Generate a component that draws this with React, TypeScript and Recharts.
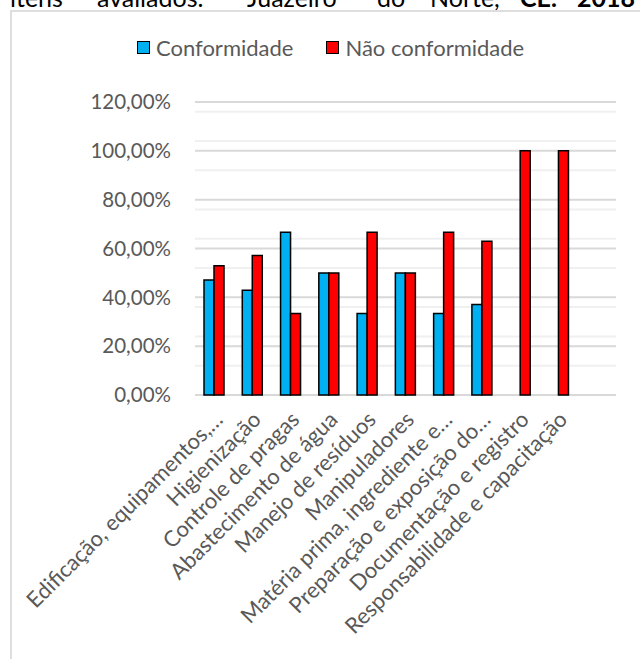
import React from "react";
import { BarChart, Bar, XAxis, YAxis, CartesianGrid, Legend } from "recharts";

const categories = [
  "Edificação, equipamentos,…",
  "Higienização",
  "Controle de pragas",
  "Abastecimento de água",
  "Manejo de resíduos",
  "Manipuladores",
  "Matéria prima, ingrediente e…",
  "Preparação e exposição do…",
  "Documentação e registro",
  "Responsabilidade e capacitação",
  "",
];
const conformidade = [0.4706, 0.4286, 0.6667, 0.5, 0.3333, 0.5, 0.3333, 0.3704, 0, 0, null];
const naoConformidade = [0.5294, 0.5714, 0.3333, 0.5, 0.6667, 0.5, 0.6667, 0.6296, 1, 1, null];
const yTicks = [0, 0.2, 0.4, 0.6, 0.8, 1.0, 1.2];
const minorTicks = [
  0.04, 0.08, 0.12, 0.16, 0.24, 0.28, 0.32, 0.36, 0.44, 0.48, 0.52, 0.56,
  0.64, 0.68, 0.72, 0.76, 0.84, 0.88, 0.92, 0.96, 1.04, 1.08, 1.12, 1.16,
];
const seriesNames = ["Conformidade", "Não conformidade"];
const seriesColors = ["#00B0F0", "#FF0000"];
const headerWords = [
  { t: "itens", x: 10, b: false },
  { t: "avaliados.", x: 97, b: false },
  { t: "Juazeiro", x: 247, b: false },
  { t: "do", x: 377, b: false },
  { t: "Norte,", x: 430, b: false },
  { t: "CE.", x: 520, b: true },
  { t: "2018", x: 577, b: true },
];

const data = categories.map((c, i) => ({
  name: c,
  conf: conformidade[i],
  nconf: naoConformidade[i],
}));

const FONT = "Lato, 'Open Sans', sans-serif";
const LABEL = "#595959";

const fmt = (v: number) => (v * 100).toFixed(2).replace(".", ",") + "%";

const XTick = (props: any) => {
  const { x, y, payload } = props;
  return (
    <g transform={`translate(${x + 10},${y + 26}) rotate(-45)`}>
      <text x={0} y={0} textAnchor="end" fill={LABEL} fontSize={22} fontFamily={FONT}>
        {payload.value}
      </text>
    </g>
  );
};

const LegendContent = () => (
  <div
    style={{
      display: "flex",
      justifyContent: "flex-start",
      alignItems: "center",
      fontFamily: FONT,
      fontSize: 22,
      color: LABEL,
      paddingLeft: 137,
      whiteSpace: "nowrap",
    }}
  >
    {seriesNames.map((n, i) => (
      <div key={n} style={{ display: "flex", alignItems: "center", marginRight: 33 }}>
        <span
          style={{
            display: "inline-block",
            width: 11,
            height: 11,
            background: seriesColors[i],
            border: "1.5px solid #000",
            marginRight: 6,
          }}
        />
        <span>{n}</span>
      </div>
    ))}
  </div>
);

export default function App() {
  return (
    <div style={{ position: "absolute", left: 0, top: 0, width: 640, height: 659, overflow: "hidden", background: "#fff" }}>
      <svg width={640} height={12} style={{ position: "absolute", left: 0, top: 0 }}>
        {headerWords.map((w) => (
          <text key={w.t} x={w.x} y={7} fontSize={25} fontFamily={FONT} fontWeight={w.b ? 700 : 400} fill="#000">
            {w.t}
          </text>
        ))}
      </svg>
      <div
        style={{
          position: "absolute",
          left: 10,
          top: 10,
          width: 1000,
          height: 1000,
          border: "2px solid #dedede",
        }}
      />
      <div style={{ position: "absolute", left: 0, top: 0 }}>
        <BarChart
          width={640}
          height={659}
          data={data}
          margin={{ top: 102, right: 24, bottom: 0, left: 0 }}
          barGap={0}
          barSize={10}
        >
          <CartesianGrid vertical={false} stroke="#f0f0f0" strokeWidth={2} horizontalValues={minorTicks} />
          <CartesianGrid vertical={false} stroke="#d9d9d9" strokeWidth={2} />
          <XAxis
            dataKey="name"
            interval={0}
            height={264}
            tickLine={false}
            axisLine={false}
            tickSize={0}
            tickMargin={0}
            tick={<XTick />}
          />
          <YAxis
            width={195}
            domain={[0, 1.2]}
            ticks={yTicks}
            tickFormatter={fmt}
            axisLine={false}
            tickLine={false}
            tickSize={0}
            tickMargin={24}
            tick={{ fill: LABEL, fontSize: 20.5, fontFamily: FONT }}
          />
          <Legend
            layout="horizontal"
            verticalAlign="middle"
            align="center"
            wrapperStyle={{ top: 34, left: 0, width: 640 }}
            content={<LegendContent />}
          />
          <Bar dataKey="conf" name={seriesNames[0]} fill={seriesColors[0]} stroke="#000" strokeWidth={1.5} isAnimationActive={false} />
          <Bar dataKey="nconf" name={seriesNames[1]} fill={seriesColors[1]} stroke="#000" strokeWidth={1.5} isAnimationActive={false} />
        </BarChart>
      </div>
    </div>
  );
}
